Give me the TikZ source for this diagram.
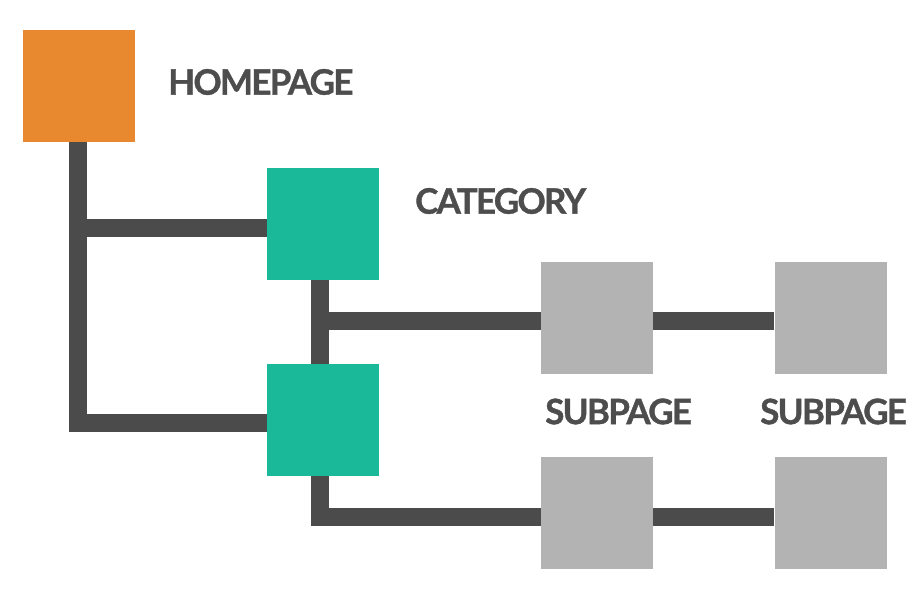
\documentclass[tikz,border=0pt]{standalone}
\usepackage{fontspec}
\setmainfont{Lato}[BoldFeatures={LetterSpace=-5,FakeBold=1}]
\usepackage{tikz}
\usetikzlibrary{calc}
\usepackage{xcolor}
\definecolor{naranja}{HTML}{E8892F}
\definecolor{verde}{HTML}{1AB99A}
\definecolor{gris}{HTML}{B3B3B3}
\definecolor{linea}{HTML}{4B4B4B}
\definecolor{texto}{HTML}{4D4D4D}

\begin{document}
\begin{tikzpicture}[x=1pt,y=-1pt,
    caja/.style={minimum size=112pt,inner sep=0pt,draw=none},
    rama/.style={draw=linea,line width=18pt,line join=miter},
    rotulo/.style={anchor=west,inner sep=0pt,text=texto,font=\fontsize{35}{35}\selectfont\bfseries}]
  \useasboundingbox (0,0) rectangle (924,602);
  % cajas
  \node[caja,fill=naranja] (inicio) at (79,86) {};
  \node[caja,fill=verde] (cat1) at (323,224) {};
  \node[caja,fill=verde] (cat2) at (323,420) {};
  \node[caja,fill=gris] (sub11) at (597,318) {};
  \node[caja,fill=gris] (sub12) at (830.5,318) {};
  \node[caja,fill=gris] (sub21) at (597,513) {};
  \node[caja,fill=gris] (sub22) at (830.5,513) {};
  % ramas
  \draw[rama] ([xshift=-1pt]inicio.south) |- ([yshift=-4pt]cat1.west);
  \draw[rama] ([xshift=-1pt]inicio.south) |- ([yshift=-3pt]cat2.west);
  \draw[rama] ([xshift=-3pt]cat1.south) -- ([xshift=-3pt]cat2.north);
  \draw[rama] ([xshift=-3pt]cat1.south) |- ([yshift=-3pt]sub11.west);
  \draw[rama] ([xshift=-3pt]cat2.south) |- ([yshift=-4pt]sub21.west);
  \draw[rama] ([yshift=-3pt]sub11.east) -- ([yshift=-3pt]sub12.west);
  \draw[rama] ([yshift=-4pt]sub21.east) -- ([yshift=-4pt]sub22.west);
  % rotulos
  \node[rotulo] (tinicio) at (168,82) {HOMEPAGE};
  \node[rotulo] (tcat) at (415,201) {CATEGORY};
  \node[rotulo] (tsub1) at (545,411.5) {SUBPAGE};
  \node[rotulo] (tsub2) at (760,411.5) {SUBPAGE};
\end{tikzpicture}
\end{document}
